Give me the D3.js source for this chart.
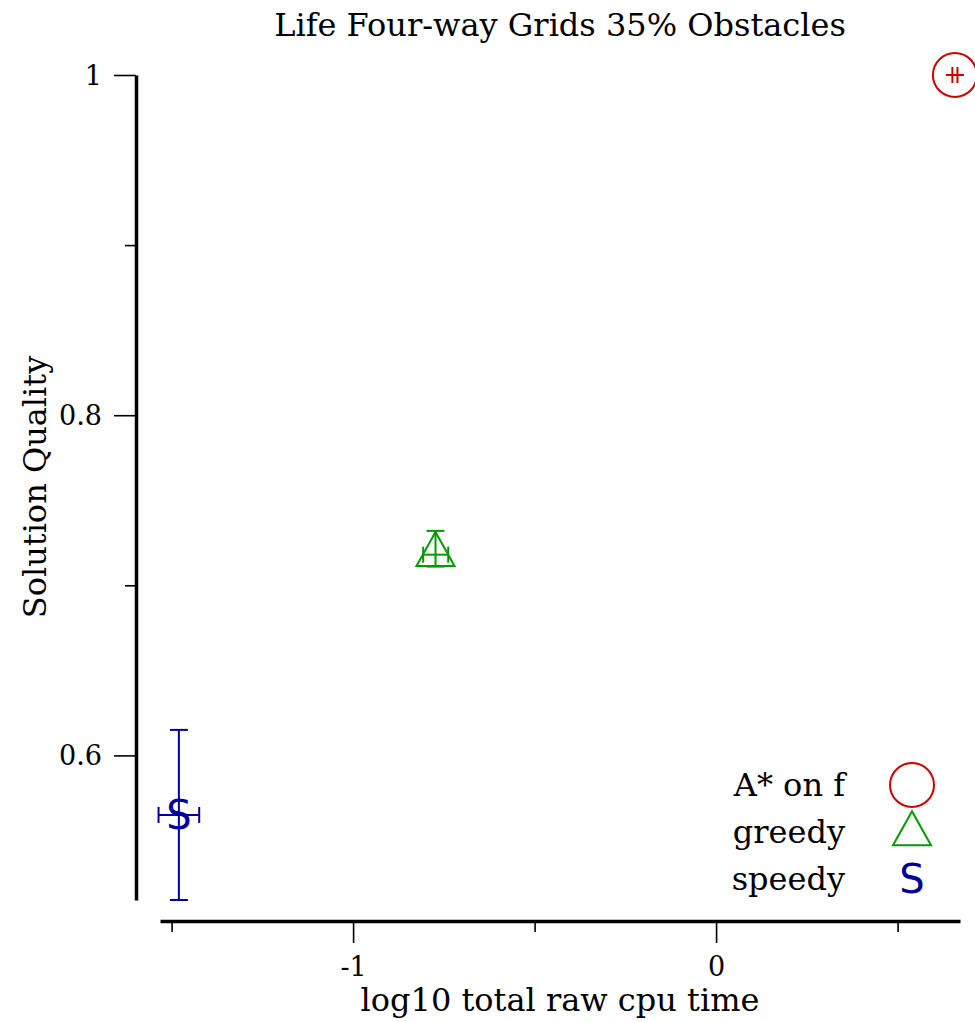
<!doctype html>
<html lang="en">

<head>
    <meta charset="utf-8">
    <title>Life Four-way Grids 35% Obstacles</title>
    <script src="https://cdn.jsdelivr.net/npm/d3@7"></script>
    <style>
        body {
            margin: 0;
            background: #ffffff;
        }
    </style>
</head>

<body>
    <svg></svg>
    <script>
        var width = 975;
        var height = 1022;

        // data
        var algorithms = ["A* on f", "greedy", "speedy"];
        var colors = ["#cc0000", "#009900", "#000099"];
        var cpuTime = [0.658, -0.773, -1.480];       // log10 total raw cpu time
        var cpuLow = [0.651, -0.807, -1.536];
        var cpuHigh = [0.665, -0.738, -1.424];
        var quality = [1.0, 0.718, 0.565];
        var qualityLow = [1.0, 0.711, 0.515];
        var qualityHigh = [1.0, 0.732, 0.615];

        var xMajor = [-1, 0];
        var xMinor = [-1.5, -0.5, 0.5];
        var yMajor = [0.6, 0.8, 1];
        var yMinor = [0.7, 0.9];

        var serif = "DejaVu Serif, serif";
        var svg = d3.select('svg').attr("width", width).attr("height", height);

        var xScale = d3.scaleLinear()
            .domain([-1.532, 0.672])
            .range([160, 960]);

        var yScale = d3.scaleLinear()
            .domain([0.515, 1])
            .range([900, 75]);

        var xAxisY = 921;
        var yAxisX = 136;

        // axes
        var xAxis = svg.append("g").attr("transform", "translate(0," + xAxisY + ")");
        xAxis.call(d3.axisBottom(xScale).tickValues(xMajor).tickSize(22).tickSizeOuter(0)
            .tickFormat(function (d) { return d < 0 ? "-" + Math.abs(d) : "" + d; }));
        xAxis.append("g").call(d3.axisBottom(xScale).tickValues(xMinor).tickSize(11).tickSizeOuter(0).tickFormat(""))
            .select(".domain").remove();

        var yAxis = svg.append("g").attr("transform", "translate(" + yAxisX + ",0)");
        yAxis.call(d3.axisLeft(yScale).tickValues(yMajor).tickSize(22).tickSizeOuter(0)
            .tickFormat(function (d) { return d === 1 ? "1" : d3.format(".1f")(d); }));
        yAxis.append("g").call(d3.axisLeft(yScale).tickValues(yMinor).tickSize(11).tickSizeOuter(0).tickFormat(""))
            .select(".domain").remove();

        svg.selectAll(".domain").attr("stroke", "#000").attr("stroke-width", 3.5);
        svg.selectAll(".tick line").attr("stroke", "#000").attr("stroke-width", 1.6);
        svg.selectAll(".tick text")
            .style("font-family", serif)
            .style("font-size", "27px")
            .attr("fill", "#000");
        xAxis.selectAll(".tick text").attr("dy", 0).attr("y", 55);
        yAxis.selectAll(".tick text").attr("x", -34).attr("dy", "0.35em");

        // titles
        svg.append("text")
            .attr("x", 560).attr("y", 36)
            .attr("text-anchor", "middle")
            .style("font-family", serif)
            .style("font-size", "32px")
            .text("Life Four-way Grids 35% Obstacles");

        svg.append("text")
            .attr("x", 560).attr("y", 1011)
            .attr("text-anchor", "middle")
            .style("font-family", serif)
            .style("font-size", "32px")
            .text("log10 total raw cpu time");

        svg.append("text")
            .attr("transform", "translate(46," + 487 + ") rotate(-90)")
            .attr("text-anchor", "middle")
            .style("font-family", serif)
            .style("font-size", "32px")
            .text("Solution Quality");

        // marker drawing
        function drawMarker(g, i, cx, cy) {
            if (i === 0) {
                g.append("circle").attr("cx", cx).attr("cy", cy).attr("r", 22)
                    .attr("fill", "none").attr("stroke", colors[i]).attr("stroke-width", 2);
            } else if (i === 1) {
                var h = 34, w = 38;
                var top = cy - h * 2 / 3, bottom = cy + h / 3;
                g.append("path")
                    .attr("d", "M" + cx + "," + top + "L" + (cx + w / 2) + "," + bottom + "L" + (cx - w / 2) + "," + bottom + "Z")
                    .attr("fill", "none").attr("stroke", colors[i]).attr("stroke-width", 2);
            } else {
                g.append("text").attr("x", cx).attr("y", cy)
                    .attr("text-anchor", "middle").attr("dy", "0.36em")
                    .style("font-family", "DejaVu Sans, sans-serif")
                    .style("font-size", "40px")
                    .attr("fill", colors[i])
                    .text("S");
            }
        }

        // error bars + points
        var capW = 9, capH = 8;
        algorithms.forEach(function (name, i) {
            var g = svg.append("g");
            var cx = xScale(cpuTime[i]), cy = yScale(quality[i]);
            var y0 = yScale(qualityLow[i]), y1 = yScale(qualityHigh[i]);
            var x0 = xScale(cpuLow[i]), x1 = xScale(cpuHigh[i]);
            var lines = [
                [cx, y0, cx, y1],
                [cx - capW, y0, cx + capW, y0],
                [cx - capW, y1, cx + capW, y1],
                [x0, cy, x1, cy],
                [x0, cy - capH, x0, cy + capH],
                [x1, cy - capH, x1, cy + capH]
            ];
            g.selectAll("line")
                .data(lines)
                .enter()
                .append("line")
                .attr("x1", function (d) { return d[0]; })
                .attr("y1", function (d) { return d[1]; })
                .attr("x2", function (d) { return d[2]; })
                .attr("y2", function (d) { return d[3]; })
                .attr("stroke", colors[i])
                .attr("stroke-width", 2);
            drawMarker(g, i, cx, cy);
        });

        // legend
        var legend = svg.append("g");
        algorithms.forEach(function (name, i) {
            var ly = 785 + i * 47;
            legend.append("text")
                .attr("x", 845).attr("y", ly)
                .attr("dy", "0.35em")
                .attr("text-anchor", "end")
                .style("font-family", serif)
                .style("font-size", "32px")
                .text(name);
            drawMarker(legend, i, 912, i === 1 ? ly + 2 : ly);
        });
    </script>

</body>

</html>
